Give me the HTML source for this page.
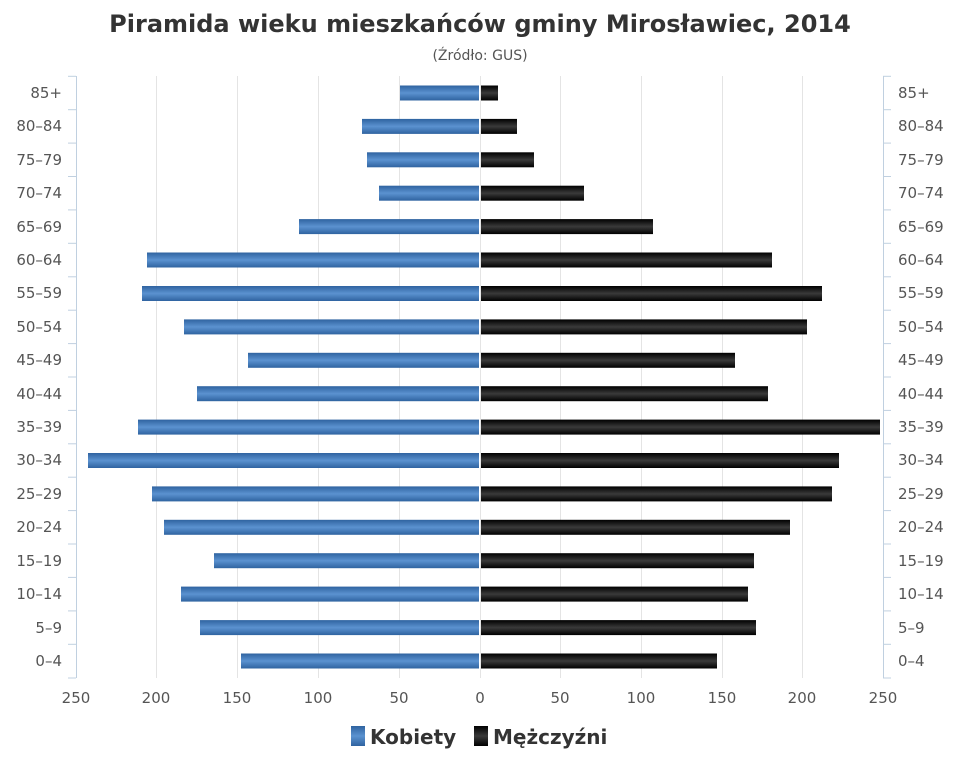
<!DOCTYPE html>
<html><head><meta charset="utf-8"><style>
body{margin:0;background:#fff;}
text{font-family:"DejaVu Sans","Liberation Sans",sans-serif;}
</style></head><body>
<svg id="s" width="960" height="768" xmlns="http://www.w3.org/2000/svg">
<defs>
<linearGradient id="b" x1="0" y1="0" x2="0" y2="1"><stop offset="0" stop-color="#2f63a0"/><stop offset="0.5" stop-color="#5b92d0"/><stop offset="1" stop-color="#2f63a0"/></linearGradient>
<linearGradient id="k" x1="0" y1="0" x2="0" y2="1"><stop offset="0" stop-color="#000"/><stop offset="0.5" stop-color="#3a3a3a"/><stop offset="1" stop-color="#000"/></linearGradient>
</defs>
<text x="480" y="32" text-anchor="middle" font-size="24" font-weight="bold" fill="#333">Piramida wieku mieszkańców gminy Mirosławiec, 2014</text>
<text x="480" y="60" text-anchor="middle" font-size="14" fill="#555">(Źródło: GUS)</text>
<g stroke="#e4e4e4" stroke-width="1">
<line x1="156.5" y1="76" x2="156.5" y2="678"/><line x1="237.5" y1="76" x2="237.5" y2="678"/><line x1="318.5" y1="76" x2="318.5" y2="678"/><line x1="399.5" y1="76" x2="399.5" y2="678"/><line x1="480.5" y1="76" x2="480.5" y2="678"/><line x1="560.5" y1="76" x2="560.5" y2="678"/><line x1="641.5" y1="76" x2="641.5" y2="678"/><line x1="722.5" y1="76" x2="722.5" y2="678"/><line x1="802.5" y1="76" x2="802.5" y2="678"/>
</g>
<g stroke="#c0d0e0" stroke-width="1"><line x1="76.5" y1="76" x2="76.5" y2="678"/><line x1="883.5" y1="76" x2="883.5" y2="678"/></g>
<g id="bars"></g>
<g font-size="15" fill="#555" text-anchor="end">
<text x="62" y="98">85+</text><text x="62" y="131">80–84</text><text x="62" y="165">75–79</text><text x="62" y="198">70–74</text><text x="62" y="232">65–69</text><text x="62" y="265">60–64</text><text x="62" y="298">55–59</text><text x="62" y="332">50–54</text><text x="62" y="365">45–49</text><text x="62" y="399">40–44</text><text x="62" y="432">35–39</text><text x="62" y="465">30–34</text><text x="62" y="499">25–29</text><text x="62" y="532">20–24</text><text x="62" y="566">15–19</text><text x="62" y="599">10–14</text><text x="62" y="633">5–9</text><text x="62" y="666">0–4</text>
</g>
<g font-size="15" fill="#555" text-anchor="start">
<text x="898" y="98">85+</text><text x="898" y="131">80–84</text><text x="898" y="165">75–79</text><text x="898" y="198">70–74</text><text x="898" y="232">65–69</text><text x="898" y="265">60–64</text><text x="898" y="298">55–59</text><text x="898" y="332">50–54</text><text x="898" y="365">45–49</text><text x="898" y="399">40–44</text><text x="898" y="432">35–39</text><text x="898" y="465">30–34</text><text x="898" y="499">25–29</text><text x="898" y="532">20–24</text><text x="898" y="566">15–19</text><text x="898" y="599">10–14</text><text x="898" y="633">5–9</text><text x="898" y="666">0–4</text>
</g>
<g font-size="15" fill="#555" text-anchor="middle">
<text x="76" y="703">250</text><text x="156" y="703">200</text><text x="237" y="703">150</text><text x="318" y="703">100</text><text x="399" y="703">50</text><text x="480" y="703">0</text><text x="560" y="703">50</text><text x="641" y="703">100</text><text x="722" y="703">150</text><text x="802" y="703">200</text><text x="883" y="703">250</text>
</g>
<rect x="351" y="726" width="14" height="20" fill="url(#b)"/>
<text x="370" y="744" font-size="20" font-weight="bold" fill="#333">Kobiety</text>
<rect x="474" y="726" width="14" height="20" fill="url(#k)"/>
<text x="493" y="744" font-size="20" font-weight="bold" fill="#333">Mężczyźni</text>
</svg>
<script>
var L=[400,362,367,379,299,147,142,184,248,197,138,88,152,164,214,181,200,241];
var R=[498,517,534,584,653,772,822,807,735,768,880,839,832,790,754,748,756,717];
var g=document.getElementById('bars'),ns='http://www.w3.org/2000/svg',h='';
for(var i=0;i<18;i++){var c=93+i*33.41,y=(c-7.5).toFixed(1);
h+='<rect x="'+L[i]+'" y="'+y+'" width="'+(479-L[i])+'" height="15" fill="url(#b)"/>';
h+='<rect x="481" y="'+y+'" width="'+(R[i]-481)+'" height="15" fill="url(#k)"/>';
var t=(c-16.7).toFixed(1);
h+='<line x1="68" y1="'+t+'" x2="76" y2="'+t+'" stroke="#c0d0e0"/><line x1="883" y1="'+t+'" x2="891" y2="'+t+'" stroke="#c0d0e0"/>';}
h+='<line x1="68" y1="678" x2="76" y2="678" stroke="#c0d0e0"/><line x1="883" y1="678" x2="891" y2="678" stroke="#c0d0e0"/>';
g.innerHTML=h;
</script>
</body></html>
